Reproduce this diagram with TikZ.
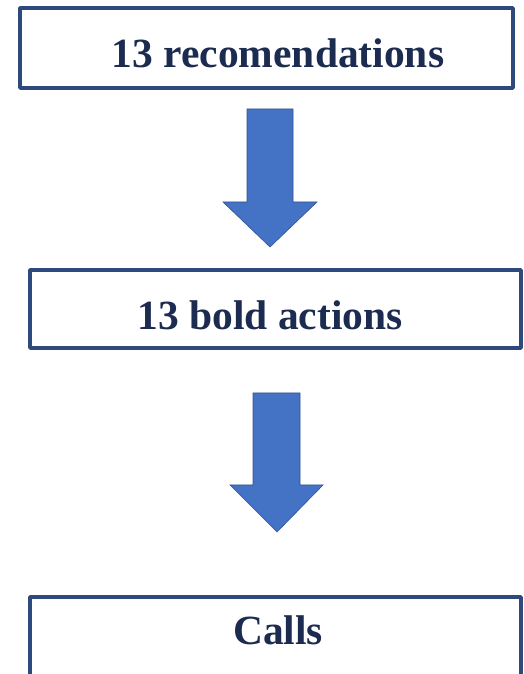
\documentclass[tikz,border=0pt]{standalone}
\usepackage{fontspec}
\setmainfont{Liberation Serif}
\usepackage{xcolor}
\definecolor{boxblue}{HTML}{2E4A7D}
\definecolor{textnavy}{HTML}{1C2B50}
\definecolor{arrowfill}{HTML}{4472C4}
\definecolor{arrowline}{HTML}{2F528F}
\tikzset{
	stepbox/.style={draw=boxblue,line width=3.4pt,fill=white,inner sep=0pt},
	steptext/.style={text=textnavy,font=\fontsize{41.5}{44}\selectfont\bfseries,anchor=base,inner sep=0pt},
	blockarrow/.style={fill=arrowfill,draw=arrowline,line width=0.6pt,line join=miter}
}

\begin{document}
\begin{tikzpicture}[line cap=round,line join=round,x=1pt,y=1pt]
		\useasboundingbox (0,0) rectangle (524,674);
		\clip (0,0) rectangle (524,674);
		% boxes
		\node[stepbox,minimum width=493pt,minimum height=80pt] (recs) at (266.5,626) {};
		\node[stepbox,minimum width=491pt,minimum height=78pt] (acts) at (275.5,365) {};
		\node[stepbox,minimum width=491pt,minimum height=100pt] (calls) at (275.5,27) {};
		% texts
		\node[steptext] (recstext) at (278,606) {13 recomendations};
		\node[steptext] (actstext) at (270,344) {13 bold actions};
		\node[steptext] (callstext) at (278,29) {Calls};
		% arrows
		\draw[blockarrow] (247,565) -- (293,565) -- (293,472) -- (317,472) -- (270,427) -- (223,472) -- (247,472) -- cycle;
		\draw[blockarrow] (253,281) -- (300,281) -- (300,189) -- (323,189) -- (277,142) -- (230,189) -- (253,189) -- cycle;
	\end{tikzpicture}
\end{document}
